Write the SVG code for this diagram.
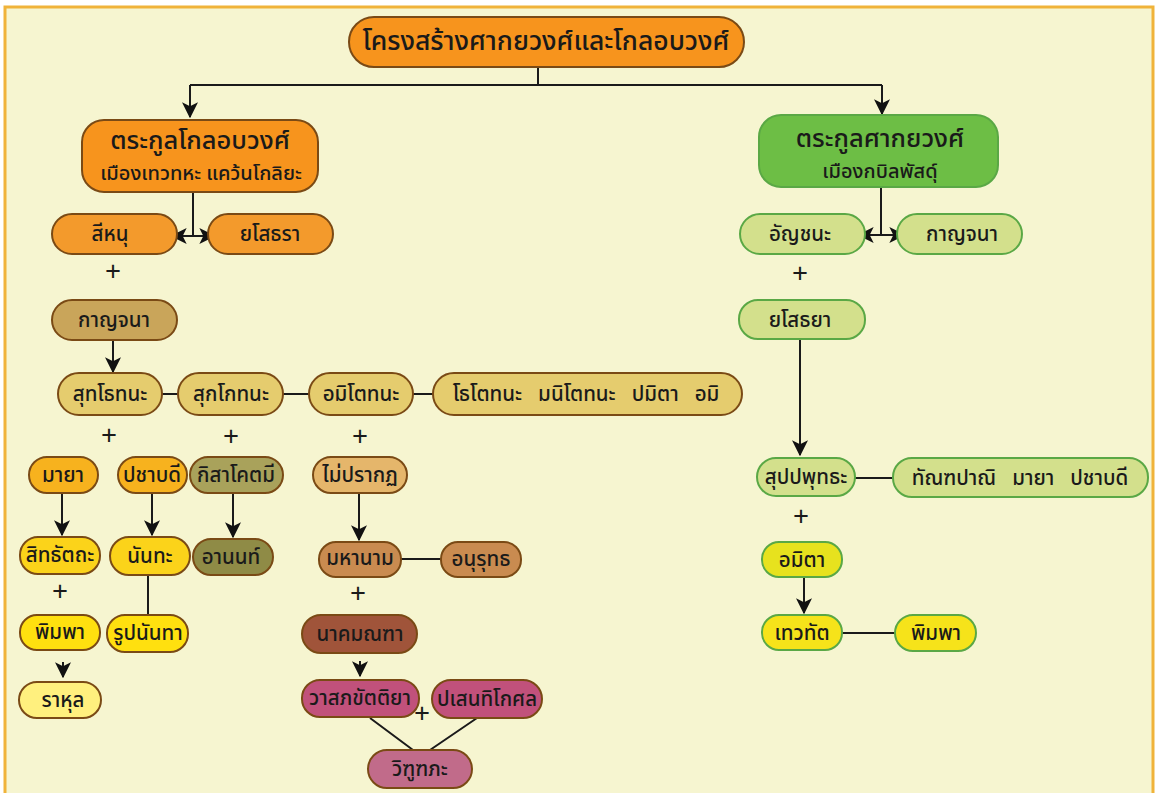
<svg xmlns="http://www.w3.org/2000/svg" width="1158" height="793" viewBox="0 0 1158 793">
<defs>
<marker id="ahb" viewBox="0 0 12 12" refX="11" refY="6" markerWidth="16" markerHeight="16" markerUnits="userSpaceOnUse" orient="auto">
<path d="M0,0 L12,6 L0,12 L3,6 z" fill="#111"/>
</marker>
</defs>
<style>
text{font-family:"Noto Sans Thai","Noto Sans","DejaVu Sans",sans-serif;fill:#1a1a1a;text-anchor:middle;dominant-baseline:central;font-weight:500}
.n{font-size:20.5px}
.t{font-size:26.5px}
.h1{font-size:25.5px}
.h2{font-size:20px}
.p{font-size:28px;font-weight:400}
.c{stroke:#1a1a1a;stroke-width:2;fill:none}
.o rect{stroke:#7a4a15;stroke-width:2}
.g rect{stroke:#5aa845;stroke-width:2}
</style>
<rect x="0" y="0" width="1158" height="793" fill="#fff"/>
<rect x="5" y="7" width="1148" height="800" fill="#F6F5D0" stroke="#F0B33A" stroke-width="3"/>

<g id="connectors">
<path class="c" d="M538,67 V85 M190,85 H882"/>
<path class="c" d="M190,85 V117" marker-end="url(#ahb)"/>
<path class="c" d="M882,85 V114" marker-end="url(#ahb)"/>
<path class="c" d="M193,192 V236"/>
<path class="c" d="M193,236 H172" marker-end="url(#ahb)"/>
<path class="c" d="M193,236 H214" marker-end="url(#ahb)"/>
<path class="c" d="M881,187 V235"/>
<path class="c" d="M881,235 H859" marker-end="url(#ahb)"/>
<path class="c" d="M881,235 H904" marker-end="url(#ahb)"/>
<path class="c" d="M113,340 V372" marker-end="url(#ahb)"/>
<path class="c" d="M162,394 H178 M283,394 H309 M413,394 H433"/>
<path class="c" d="M62,493 V535" marker-end="url(#ahb)"/>
<path class="c" d="M152,493 V535" marker-end="url(#ahb)"/>
<path class="c" d="M233,493 V537" marker-end="url(#ahb)"/>
<path class="c" d="M148,575 V616"/>
<path class="c" d="M63,662 V677" marker-end="url(#ahb)"/>
<path class="c" d="M359,493 V540" marker-end="url(#ahb)"/>
<path class="c" d="M401,559 H441"/>
<path class="c" d="M360,661 V676" marker-end="url(#ahb)"/>
<path class="c" d="M370,718 L413,750 M477,718 L430,750"/>
<path class="c" d="M800,339 V455" marker-end="url(#ahb)"/>
<path class="c" d="M855,478 H893"/>
<path class="c" d="M804,577 V613" marker-end="url(#ahb)"/>
<path class="c" d="M842,633 H895"/>
</g>

<g id="plus">
<text class="p" x="113" y="272">+</text>
<text class="p" x="109" y="436">+</text>
<text class="p" x="231" y="437">+</text>
<text class="p" x="360" y="437">+</text>
<text class="p" x="60" y="592">+</text>
<text class="p" x="358" y="594">+</text>
<text class="p" x="422" y="714">+</text>
<text class="p" x="800" y="274">+</text>
<text class="p" x="801" y="517">+</text>
</g>

<g id="title" class="o"><rect x="349" y="17" width="395" height="50" rx="25" fill="#F7941D"/><text class="t" x="546" y="42">โครงสร้างศากยวงศ์และโกลอบวงศ์</text></g>

<g id="koliya" class="o"><rect x="82" y="120" width="236" height="72" rx="22" fill="#F7941D"/><text class="h1" x="200" y="141">ตระกูลโกลอบวงศ์</text><text class="h2" x="201" y="174">เมืองเทวทหะ แคว้นโกลิยะ</text></g>

<g id="sakya" class="g"><rect x="759" y="115" width="239" height="72" rx="22" fill="#6DBE45"/><text class="h1" x="880" y="139">ตระกูลศากยวงศ์</text><text class="h2" x="880" y="172">เมืองกบิลพัสดุ์</text></g>

<g id="sihanu" class="o"><rect x="52" y="214" width="125" height="40" rx="20" fill="#F39A2C"/><text class="n" x="110" y="234">สีหนุ</text></g>
<g id="yasodhara" class="o"><rect x="208" y="214" width="125" height="40" rx="20" fill="#F39A2C"/><text class="n" x="270" y="234">ยโสธรา</text></g>

<g id="kanchana-l" class="o"><rect x="52" y="300" width="125" height="40" rx="20" fill="#C9A55A"/><text class="n" x="114" y="320">กาญจนา</text></g>

<g id="suddhodana" class="o"><rect x="58" y="373" width="104" height="42" rx="21" fill="#E5CC6E"/><text class="n" x="110" y="394">สุทโธทนะ</text></g>
<g id="sukkodana" class="o"><rect x="178" y="373" width="105" height="42" rx="21" fill="#E5CC6E"/><text class="n" x="231" y="394">สุกโกทนะ</text></g>
<g id="amitodana" class="o"><rect x="309" y="373" width="104" height="42" rx="21" fill="#E5CC6E"/><text class="n" x="361" y="394">อมิโตทนะ</text></g>
<g id="others-l" class="o"><rect x="433" y="373" width="309" height="42" rx="21" fill="#E5CC6E"/><text class="n" x="586" y="394" xml:space="preserve">โธโตทนะ   มนิโตทนะ   ปมิตา   อมิ</text></g>

<g id="maya" class="o"><rect x="29" y="457" width="69" height="36" rx="18" fill="#F7B21E"/><text class="n" x="63" y="475">มายา</text></g>
<g id="pajapati" class="o"><rect x="118" y="457" width="69" height="36" rx="18" fill="#F7B21E"/><text class="n" x="152" y="475">ปชาบดี</text></g>
<g id="kisagotami" class="o"><rect x="190" y="457" width="93" height="36" rx="18" fill="#A9A25B"/><text class="n" x="236" y="475">กิสาโคตมี</text></g>
<g id="maiprakot" class="o"><rect x="313" y="457" width="94" height="36" rx="18" fill="#E5B66B"/><text class="n" x="360" y="475">ไม่ปรากฏ</text></g>

<g id="siddhattha" class="o"><rect x="20" y="537" width="80" height="37" rx="18" fill="#FBD31A"/><text class="n" x="60" y="555">สิทธัตถะ</text></g>
<g id="nanda" class="o"><rect x="110" y="537" width="80" height="38" rx="19" fill="#FBD31A"/><text class="n" x="150" y="556">นันทะ</text></g>
<g id="ananda" class="o"><rect x="193" y="539" width="80" height="36" rx="18" fill="#8F8B46"/><text class="n" x="231" y="557">อานนท์</text></g>
<g id="mahanama" class="o"><rect x="319" y="542" width="82" height="35" rx="17" fill="#C98B50"/><text class="n" x="360" y="558">มหานาม</text></g>
<g id="anuruddha" class="o"><rect x="441" y="542" width="80" height="35" rx="17" fill="#C98B50"/><text class="n" x="481" y="559">อนุรุทธ</text></g>

<g id="bimba-l" class="o"><rect x="20" y="615" width="80" height="35" rx="17" fill="#FFE00F"/><text class="n" x="60" y="632">พิมพา</text></g>
<g id="rupananda" class="o"><rect x="107" y="615" width="81" height="37" rx="18" fill="#FFE00F"/><text class="n" x="148" y="633">รูปนันทา</text></g>
<g id="nagamunda" class="o"><rect x="302" y="615" width="115" height="38" rx="19" fill="#A0543A"/><text class="n" x="360" y="634">นาคมณฑา</text></g>

<g id="rahula" class="o"><rect x="19" y="682" width="82" height="36" rx="18" fill="#FFF07E"/><text class="n" x="63" y="700">ราหุล</text></g>
<g id="vasabha" class="o"><rect x="302" y="680" width="117" height="37" rx="18" fill="#C1517B"/><text class="n" x="360" y="698">วาสภขัตติยา</text></g>
<g id="pasenadi" class="o"><rect x="432" y="680" width="110" height="38" rx="19" fill="#C1517B"/><text class="n" x="487" y="699">ปเสนทิโกศล</text></g>
<g id="vidudabha" class="o"><rect x="368" y="750" width="104" height="38" rx="19" fill="#C16B8A"/><text class="n" x="420" y="769">วิฑูฑภะ</text></g>

<g id="anjana" class="g"><rect x="740" y="214" width="125" height="40" rx="20" fill="#D3E08C"/><text class="n" x="800" y="234">อัญชนะ</text></g>
<g id="kanchana-r" class="g"><rect x="897" y="214" width="125" height="40" rx="20" fill="#D3E08C"/><text class="n" x="962" y="234">กาญจนา</text></g>
<g id="yasodhaya" class="g"><rect x="739" y="300" width="126" height="39" rx="19" fill="#D3E08C"/><text class="n" x="800" y="320">ยโสธยา</text></g>
<g id="suppabuddha" class="g"><rect x="757" y="458" width="98" height="38" rx="19" fill="#D3E08C"/><text class="n" x="806" y="477">สุปปพุทธะ</text></g>
<g id="others-r" class="g"><rect x="893" y="458" width="255" height="39" rx="19" fill="#D3E08C"/><text class="n" x="1020" y="478" xml:space="preserve">ทัณฑปาณิ   มายา   ปชาบดี</text></g>
<g id="amita" class="g"><rect x="762" y="542" width="80" height="35" rx="17" fill="#E7E21E"/><text class="n" x="802" y="560">อมิตา</text></g>
<g id="devadatta" class="g"><rect x="762" y="615" width="80" height="35" rx="17" fill="#F6E31A"/><text class="n" x="802" y="633">เทวทัต</text></g>
<g id="bimba-r" class="g"><rect x="895" y="615" width="81" height="36" rx="18" fill="#F6E31A"/><text class="n" x="936" y="633">พิมพา</text></g>
</svg>
